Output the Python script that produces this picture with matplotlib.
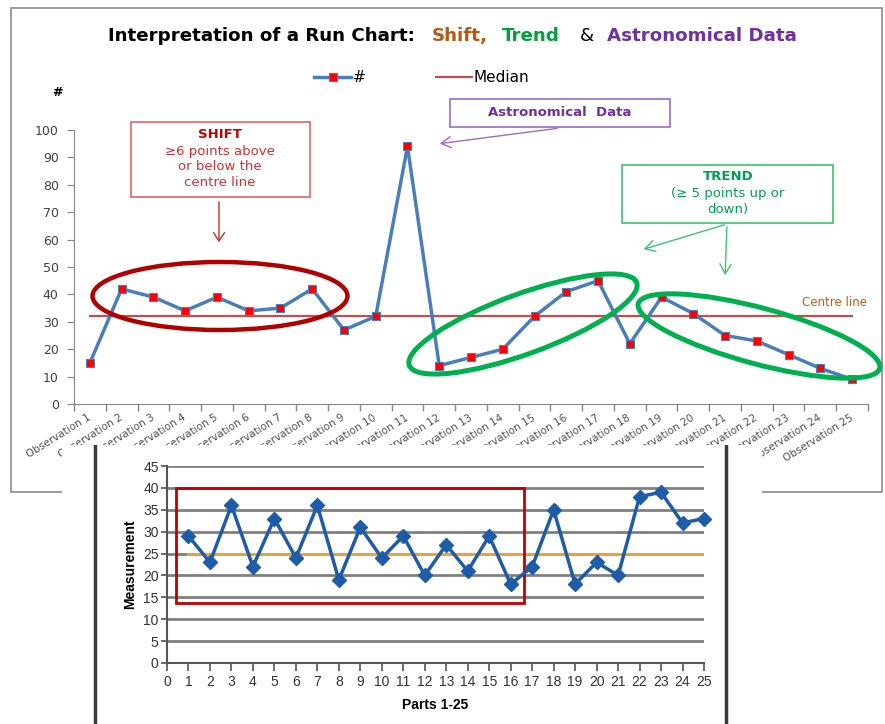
import matplotlib
matplotlib.use("Agg")
import matplotlib.pyplot as plt
from matplotlib.patches import Rectangle, Ellipse, FancyArrowPatch
from matplotlib.lines import Line2D

# ---------------- data ----------------
obs_labels = ["Observation %d" % i for i in range(1, 26)]
obs_values = [15, 42, 39, 34, 39, 34, 35, 42, 27, 32, 94, 14, 17, 20, 32,
              41, 45, 22, 39, 33, 25, 23, 18, 13, 9]
obs_median = 32
top_yticks = [0, 10, 20, 30, 40, 50, 60, 70, 80, 90, 100]

parts = list(range(1, 26))
part_values = [29, 23, 36, 22, 33, 24, 36, 19, 31, 24, 29, 20, 27, 21, 29,
               18, 22, 35, 18, 23, 20, 38, 39, 32, 33]
part_median = 25
bottom_xticks = list(range(0, 26))
bottom_yticks = [0, 5, 10, 15, 20, 25, 30, 35, 40, 45]

W, H = 885, 724
fig = plt.figure(figsize=(W / 100, H / 100), dpi=100)
fig.patch.set_facecolor("white")


def fx(x):
    return x / W


def fy(y):
    return 1 - y / H


# ---------------- top chart ----------------
ax = fig.add_axes([fx(74), fy(404), (868 - 74) / W, (404 - 130) / H], zorder=1)
xs = list(range(len(obs_values)))
ln_series, = ax.plot(xs, obs_values, color="#4A7EBB", lw=2.5, marker="s",
                     ms=6, mfc="#FF0000", mec="#4A7EBB", mew=0.8,
                     label="#", zorder=3, clip_on=False)
ln_med, = ax.plot(xs, [obs_median] * len(xs), color="#C0504D", lw=1.6,
                  label="Median", zorder=2)
ax.set_xlim(-0.5, len(xs) - 0.5)
ax.set_ylim(0, 100)
ax.set_yticks(top_yticks)
ax.set_xticks(xs)
ax.set_xticklabels(obs_labels, rotation=32, ha="right", va="center",
                   rotation_mode="anchor", fontsize=7.5, color="#505050",
                   family="DejaVu Sans")
ax.set_xticks([i - 0.5 for i in range(len(xs) + 1)], minor=True)
ax.tick_params(axis="x", which="major", length=0, pad=9)
ax.tick_params(axis="x", which="minor", length=5, color="#868686", width=1)
ax.tick_params(axis="y", length=5, color="#868686", labelsize=9,
               labelcolor="#404040", pad=6)
for lab in ax.get_yticklabels():
    lab.set_family("DejaVu Sans")
for s in ("top", "right"):
    ax.spines[s].set_visible(False)
for s in ("left", "bottom"):
    ax.spines[s].set_color("#868686")
ax.set_facecolor("none")

fig.legend(handles=[ln_series, ln_med], loc="center",
           bbox_to_anchor=(fx(422), fy(78)), ncol=2, frameon=False,
           fontsize=11, handlelength=2.4, handletextpad=0.1,
           columnspacing=4.6, prop={"family": "DejaVu Sans", "size": 11})

fig.text(fx(57), fy(92), "#", fontsize=9, fontweight="bold",
         ha="center", va="center", family="DejaVu Sans")

# ---------------- overlay annotations (pixel coordinates) ----------------
ov = fig.add_axes([0, 0, 1, 1], zorder=2)
ov.set_xlim(0, W)
ov.set_ylim(H, 0)
ov.set_axis_off()
ov.patch.set_alpha(0)

ov.add_patch(Rectangle((11, 8), 871, 484, fill=False, ec="#8C8C8C", lw=1.2))

# title
renderer = fig.canvas.get_renderer()
pieces = [("Interpretation of a Run Chart:", "#000000", "bold", 108),
          ("Shift,", "#B45A14", "bold", 432),
          ("Trend", "#00A03C", "bold", 502),
          ("&", "#000000", "normal", 580),
          ("Astronomical Data", "#7030A0", "bold", 607)]
t0 = fig.text(0, 0, pieces[0][0], fontsize=10, fontweight="bold",
              family="DejaVu Sans")
w0 = t0.get_window_extent(renderer).width
t0.remove()
tsize = 10 * (416 - 108) / w0
for txt, col, wt, x0 in pieces:
    ov.text(x0, 36, txt, color=col, fontweight=wt, fontsize=tsize,
            ha="left", va="center", family="DejaVu Sans")

# SHIFT box
ov.add_patch(Rectangle((131, 122), 179, 75, fill=False, ec="#E06666", lw=1.2))
ov.text(220, 134, "SHIFT", color="#C00000", fontweight="bold", fontsize=9.5,
        ha="center", va="center", family="DejaVu Sans")
for yy, txt in [(151, "≥6 points above"), (167, "or below the"),
                (183, "centre line")]:
    ov.text(220, yy, txt, color="#D03030", fontsize=9.5, ha="center",
            va="center", family="DejaVu Sans")
ov.add_patch(FancyArrowPatch((219, 199), (219, 245), arrowstyle="->,head_length=6,head_width=4",
                             color="#C03030", lw=1.0, mutation_scale=1))
ov.add_patch(Ellipse((220, 296), 255, 68, fill=False, ec="#B00000", lw=3.2))

# Astronomical Data box
ov.add_patch(Rectangle((450, 99), 220, 28, fill=False, ec="#9C6BCB", lw=1.2))
ov.text(560, 113, "Astronomical  Data", color="#7030A0", fontweight="bold",
        fontsize=9.5, ha="center", va="center", family="DejaVu Sans")
ov.add_patch(FancyArrowPatch((560, 128), (437, 144), arrowstyle="->,head_length=7,head_width=4",
                             color="#9C6BCB", lw=1.0, mutation_scale=1))

# TREND box
ov.add_patch(Rectangle((622, 165), 211, 58, fill=False, ec="#3CC46E", lw=1.2))
ov.text(728, 177, "TREND", color="#00A050", fontweight="bold", fontsize=9.5,
        ha="center", va="center", family="DejaVu Sans")
ov.text(728, 194, "(≥ 5 points up or", color="#00A050", fontsize=9.5,
        ha="center", va="center", family="DejaVu Sans")
ov.text(728, 210, "down)", color="#00A050", fontsize=9.5,
        ha="center", va="center", family="DejaVu Sans")
ov.add_patch(FancyArrowPatch((727, 224), (641, 250), arrowstyle="->,head_length=7,head_width=4",
                             color="#3CC46E", lw=1.0, mutation_scale=1))
ov.add_patch(FancyArrowPatch((727, 224), (725, 278), arrowstyle="->,head_length=7,head_width=4",
                             color="#3CC46E", lw=1.0, mutation_scale=1))
ov.add_patch(Ellipse((523, 324), 242, 60, angle=-20, fill=False,
                     ec="#00B050", lw=3.6))
ov.add_patch(Ellipse((759, 336), 250, 56, angle=15, fill=False,
                     ec="#00B050", lw=3.6))

ov.text(835, 302, "Centre line", color="#C55A11", fontsize=8.5,
        ha="center", va="center", family="DejaVu Sans")

# ---------------- bottom picture ----------------
bx = fig.add_axes([fx(62), 0, (762 - 62) / W, (H - 445) / H], zorder=5)
bx.set_xlim(62, 762)
bx.set_ylim(H, 445)
bx.set_facecolor("white")
bx.set_xticks([])
bx.set_yticks([])
for s in bx.spines.values():
    s.set_visible(False)
bx.plot([95, 95], [446, H], color="#3A3A3A", lw=2.5)
bx.plot([726, 726], [446, H], color="#3A3A3A", lw=2.5)

b = fig.add_axes([fx(167), fy(663), (704 - 167) / W, (663 - 466) / H], zorder=6)
b.set_facecolor("none")
b.set_xlim(0, 25)
b.set_ylim(0, 45)
b.set_yticks(bottom_yticks)
b.set_xticks(bottom_xticks)
b.yaxis.grid(True, color="#808080", lw=2)
b.set_axisbelow(True)
b.plot(parts, [part_median] * len(parts), color="#E8A33C", lw=2.2, zorder=2)
b.plot(parts, part_values, color="#1F5CA8", lw=2.5, marker="D", ms=7,
       mfc="#1F5CA8", mec="#1F5CA8", zorder=4, clip_on=False)
b.add_patch(Rectangle((0.4, 13.6), 16.2, 26.4, fill=False, ec="#C00000",
                      lw=2, zorder=3))
for s in ("top", "right"):
    b.spines[s].set_visible(False)
for s in ("left", "bottom"):
    b.spines[s].set_color("#555555")
    b.spines[s].set_linewidth(1.5)
b.tick_params(axis="both", labelsize=10, labelcolor="#333333",
              color="#555555", width=1.2)
b.tick_params(axis="x", length=6, pad=3)
b.tick_params(axis="y", length=4, pad=2)
for lab in b.get_xticklabels() + b.get_yticklabels():
    lab.set_family("Liberation Sans")
b.set_xlabel("Parts 1-25", fontsize=10, fontweight="bold",
             family="Liberation Sans", labelpad=6)
b.set_ylabel("Measurement", fontsize=10, fontweight="bold",
             family="Liberation Sans", labelpad=4)

fig.savefig("out.png", dpi=100, facecolor="white")
